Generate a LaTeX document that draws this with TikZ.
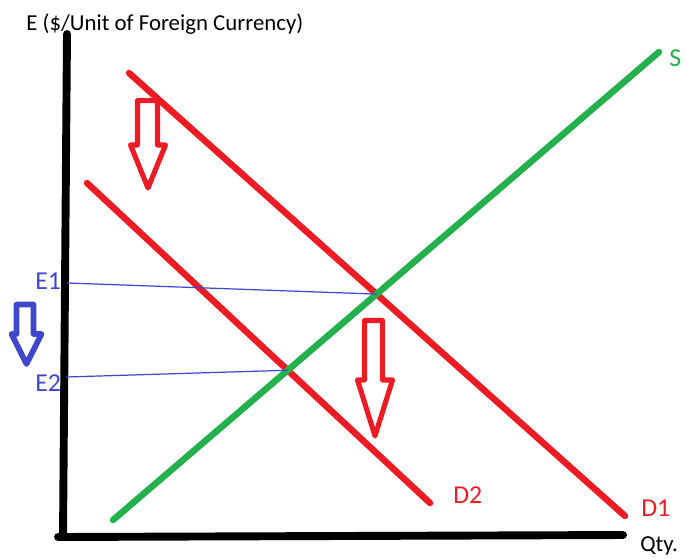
\documentclass[tikz,border=0pt]{standalone}
\usepackage{fontspec}
\setmainfont{Carlito}
\usepackage{xcolor}
\usetikzlibrary{intersections}
\definecolor{paintred}{HTML}{ED1C24}
\definecolor{paintgreen}{HTML}{22B14C}
\definecolor{paintblue}{HTML}{3F48CC}

\begin{document}
\begin{tikzpicture}[x=0.02cm,y=-0.02cm,
  axis/.style={line width=4.5pt,line cap=round},
  curve/.style={line width=3.7pt,line cap=round},
  guide/.style={paintblue,line width=0.7pt},
  shiftarrow/.style={line width=2.9pt,line join=round},
  lbl/.style={font=\fontsize{14.7}{16}\selectfont,inner sep=0pt,anchor=base west},
  axlbl/.style={font=\fontsize{13}{15}\selectfont,inner sep=0pt,anchor=base west}]
\useasboundingbox (0,0) rectangle (686,558);

% axes
\coordinate (ytop) at (67,34);
\coordinate (orig) at (63,537);
\coordinate (xleft) at (58,537);
\coordinate (xend) at (623,535);
\draw[axis] (ytop) -- (orig);
\draw[axis] (xleft) -- (xend);
\node[axlbl] (ylab) at (26,30) {E (\$/Unit of Foreign Currency)};
\node[axlbl] (xlab) at (640,551) {Qty.};

% supply and the two demand curves
\coordinate (s0) at (113,520);
\coordinate (s1) at (659,52);
\coordinate (da0) at (129,73);
\coordinate (da1) at (625,516);
\coordinate (db0) at (87,183);
\coordinate (db1) at (430,503);
\draw[curve,paintred,name path=D1] (da0) -- (da1);
\draw[curve,paintred,name path=D2] (db0) -- (db1);
\draw[curve,paintgreen,name path=S] (s0) -- (s1);
\path[name intersections={of=S and D1,by=eq1}];
\path[name intersections={of=S and D2,by=eq2}];

\node[lbl,paintgreen] (slab) at (669,66) {S};
\node[lbl,paintred] (d1lab) at (641,516) {D1};
\node[lbl,paintred] (d2lab) at (453,503) {D2};

% equilibrium rates
\node[lbl,paintblue] (E1) at (35,289) {E1};
\node[lbl,paintblue] (E2) at (35,391) {E2};
\coordinate (e1ax) at (67,283);
\coordinate (e2ax) at (66,377);
\draw[guide] (e1ax) -- (eq1);
\draw[guide] (e2ax) -- (eq2);

% shift arrows
\draw[shiftarrow,paintred] (137.5,100.5) -- (157.5,100.5) -- (157.5,145) -- (165.5,145)
  -- (148,188) -- (130.5,145) -- (137.5,145) -- cycle;
\draw[shiftarrow,paintred] (364.5,320.5) -- (382.5,320.5) -- (382.5,380) -- (392.5,380)
  -- (375,436) -- (357.5,380) -- (364.5,380) -- cycle;
\draw[shiftarrow,paintblue,line width=3.2pt] (16.5,304.5) -- (33.5,304.5) -- (33.5,334) -- (41.5,334)
  -- (26.5,364) -- (11.5,334) -- (16.5,334) -- cycle;
\end{tikzpicture}
\end{document}
